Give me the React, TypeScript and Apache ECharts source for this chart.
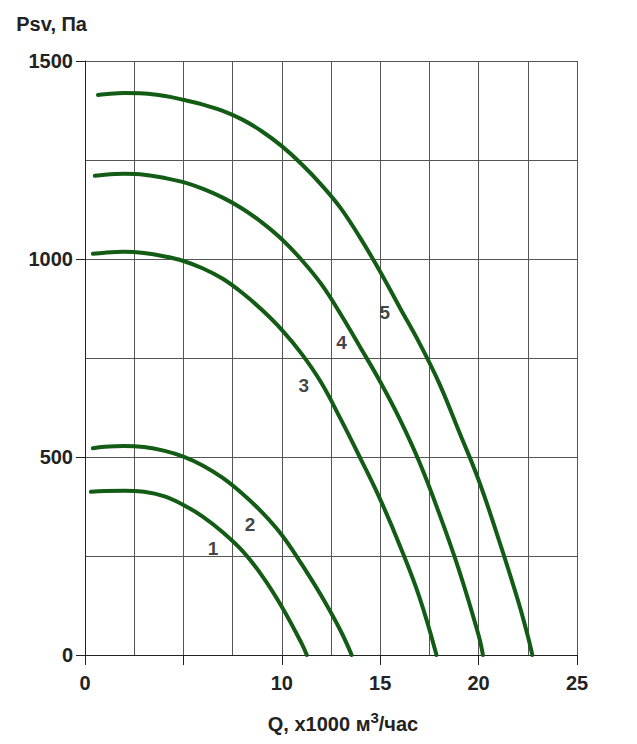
import React, { useEffect, useRef } from 'react';
import * as echarts from 'echarts';

const curveNames = ['1', '2', '3', '4', '5'];

const flow1 = [0.3, 1, 2, 3, 4, 5, 6, 7, 8, 9, 10, 11, 11.27];
const pressure1 = [412, 414, 415, 412, 401, 379, 349, 310, 263, 200, 122, 30, 0];

const flow2 = [0.4, 1, 2, 3, 4, 5, 6, 7, 8, 9, 10, 11, 12, 13, 13.55];
const pressure2 = [522, 526, 528, 525, 516, 501, 478, 447, 407, 360, 303, 230, 150, 60, 0];

const flow3 = [0.4, 1, 2, 3, 4, 5, 6, 7, 8, 9, 10, 11, 12, 13, 14, 15, 16, 17, 17.86];
const pressure3 = [1013, 1016, 1018, 1015, 1007, 995, 976, 950, 914, 871, 821, 761, 688, 595, 496, 393, 276, 145, 0];

const flow4 = [0.5, 1, 2, 3, 4, 5, 6, 7, 8, 9, 10, 11, 12, 13, 14, 15, 16, 17, 18, 19, 20, 20.22];
const pressure4 = [1210, 1213, 1215, 1213, 1205, 1194, 1177, 1155, 1127, 1092, 1050, 998, 937, 860, 776, 690, 595, 486, 357, 215, 50, 0];

const flow5 = [0.66, 1, 2, 3, 4, 5, 6, 7, 8, 9, 10, 11, 12, 13, 14, 15, 16, 17, 18, 19, 20, 21, 22, 22.5, 22.73];
const pressure5 = [1414, 1416, 1419, 1418, 1412, 1402, 1390, 1374, 1352, 1322, 1285, 1240, 1188, 1128, 1052, 968, 877, 787, 686, 565, 442, 295, 138, 48, 0];

const flows = [flow1, flow2, flow3, flow4, flow5];
const pressures = [pressure1, pressure2, pressure3, pressure4, pressure5];

const labelFlow = [6.51, 8.38, 11.12, 13.03, 15.23];
const labelPressure = [270, 329, 680, 789, 864];

const xHiddenLabels = [5];

const FONT = '"Liberation Sans", Arial, sans-serif';
const GREEN = '#135c15';
const GRID = '#555';

export default function App() {
  const ref = useRef<HTMLDivElement>(null);
  useEffect(() => {
    if (!ref.current) return;
    const chart = echarts.init(ref.current, null, { renderer: 'svg' });
    const lineSeries = curveNames.map((name, i) => ({
      type: 'line',
      name,
      data: flows[i].map((q, j) => [q, pressures[i][j]]),
      smooth: 0.4,
      showSymbol: false,
      symbol: 'none',
      lineStyle: { color: GREEN, width: 4, cap: 'round', join: 'round' },
      z: 3,
    }));
    chart.setOption({
      animation: false,
      backgroundColor: '#ffffff',
      grid: { left: 85, right: 60, top: 61, bottom: 89, containLabel: false },
      xAxis: {
        type: 'value',
        min: 0,
        max: 25,
        interval: 5,
        name: 'Q, x1000 м{sup|3}/час',
        nameLocation: 'middle',
        nameGap: 55,
        nameTextStyle: {
          fontFamily: FONT,
          fontWeight: 'bold',
          fontSize: 20,
          color: '#222',
          padding: [0, 0, 0, 24],
          rich: {
            sup: { fontFamily: FONT, fontWeight: 'bold', fontSize: 15, color: '#222', verticalAlign: 'top', padding: [0, 0, 12, 0] },
          },
        },
        axisLine: { show: true, lineStyle: { color: '#222', width: 1 } },
        axisTick: { show: true, length: 10, inside: false, lineStyle: { color: '#222' } },
        minorTick: { show: false, splitNumber: 2 },
        axisLabel: {
          formatter: (v: number) => (xHiddenLabels.includes(v) ? '' : String(v)),
          fontFamily: FONT,
          fontWeight: 'bold',
          fontSize: 20,
          color: '#222',
          margin: 18,
        },
        splitLine: { show: true, lineStyle: { color: GRID, width: 1 } },
        minorSplitLine: { show: true, lineStyle: { color: GRID, width: 1 } },
      },
      yAxis: {
        type: 'value',
        min: 0,
        max: 1500,
        interval: 500,
        name: 'Psv, Па',
        nameLocation: 'end',
        nameGap: 37,
        nameTextStyle: { fontFamily: FONT, fontWeight: 'bold', fontSize: 20, color: '#222', align: 'right', verticalAlign: 'middle', padding: [0, -2, 0, 0] },
        axisLine: { show: true, lineStyle: { color: '#222', width: 1 } },
        axisTick: { show: true, length: 9, inside: false, lineStyle: { color: '#222' } },
        minorTick: { show: false, splitNumber: 2 },
        axisLabel: {
          formatter: (v: number) => String(v),
          fontFamily: FONT,
          fontWeight: 'bold',
          fontSize: 20,
          color: '#222',
          margin: 12,
        },
        splitLine: { show: true, lineStyle: { color: GRID, width: 1 } },
        minorSplitLine: { show: true, lineStyle: { color: GRID, width: 1 } },
      },
      series: [
        ...lineSeries,
        {
          type: 'scatter',
          symbolSize: 0,
          itemStyle: { color: '#111' },
          data: curveNames.map((n, i) => ({ name: n, value: [labelFlow[i], labelPressure[i]] })),
          label: {
            show: true,
            position: 'inside',
            formatter: (p: any) => p.name,
            fontFamily: FONT,
            fontWeight: 'bold',
            fontSize: 19,
            color: '#111',
            textBorderWidth: 0,
          },
          z: 4,
        },
      ],
    });
    return () => chart.dispose();
  }, []);
  return <div ref={ref} style={{ position: 'fixed', left: 0, top: 0, width: 637, height: 744 }} />;
}
